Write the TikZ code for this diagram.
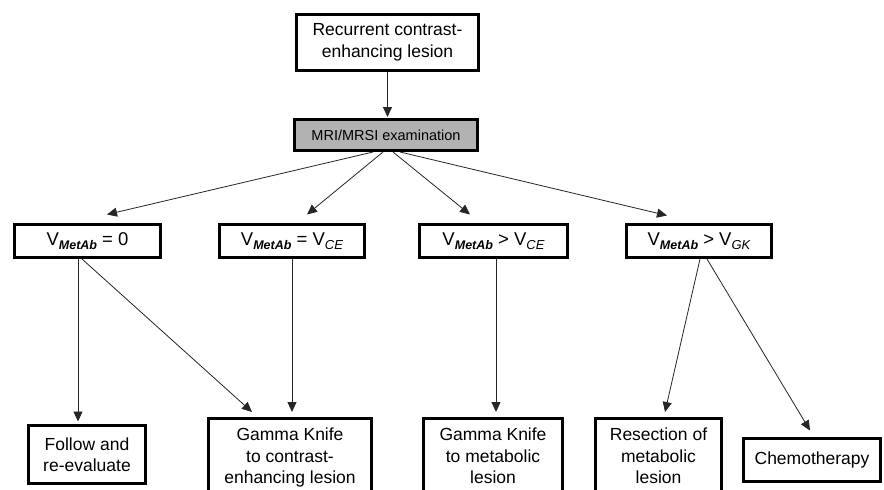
\documentclass[tikz,border=0pt]{standalone}
\usepackage{fontspec}
\setmainfont{Liberation Sans}
\usetikzlibrary{arrows.meta,calc}
\definecolor{boxgray}{RGB}{178,178,178}
\newcommand\Msub[1]{\raisebox{-3.5pt}{\fontsize{12.5}{12}\selectfont\bfseries\itshape #1}}
\newcommand\Csub[1]{\raisebox{-3.5pt}{\fontsize{13}{12}\selectfont\itshape #1}}
\begin{document}
\begin{tikzpicture}[x=1pt,y=-1pt,
  box/.style={draw=black, line width=3pt, align=center, inner sep=0pt,
    font=\fontsize{17.5}{21.5}\selectfont},
  vbox/.style={draw=black, line width=3pt, inner sep=0pt, minimum height=33,
    font=\fontsize{18.5}{21.5}\selectfont},
  cutbox/.style={box, anchor=north, inner ysep=10pt, inner xsep=0pt},
  arr/.style={draw=black!85, line width=0.8pt, -{Triangle[length=10pt,width=9pt]}}]
\useasboundingbox (0,0) rectangle (884,490);
\clip (0,0) rectangle (884,490);
\fill[white] (0,0) rectangle (884,490);

\node[box, minimum width=182, minimum height=56] (top) at (387.5,42.5) {Recurrent contrast-\\enhancing lesion};
\node[box, fill=boxgray, minimum width=183, minimum height=31, font=\fontsize{14.5}{17}\selectfont] (mri) at (386,135) {MRI/MRSI examination};

\node[vbox, minimum width=146] (b1) at (87.5,241) {V\Msub{MetAb}\ =\ 0};
\node[vbox, minimum width=145] (b2) at (292,241) {V\Msub{MetAb}\ =\ V\Csub{CE}};
\node[vbox, minimum width=148] (b3) at (493.5,241) {V\Msub{MetAb}\ >\ V\Csub{CE}};
\node[vbox, minimum width=145] (b4) at (699,241) {V\Msub{MetAb}\ >\ V\Csub{GK}};

\node[box, minimum width=117, minimum height=58] (follow) at (87,454.5) {Follow and\\re-evaluate};
\node[cutbox, minimum width=163] (gk1) at (290,416.5) {Gamma Knife\\to contrast-\\enhancing lesion};
\node[cutbox, minimum width=139] (gk2) at (493,416.5) {Gamma Knife\\to metabolic\\lesion};
\node[cutbox, minimum width=126] (res) at (658.5,416.5) {Resection of\\metabolic\\lesion};
\node[box, minimum width=137, minimum height=43] (chemo) at (812,460) {Chemotherapy};

\draw[arr, shorten >=1pt] (top.south) -- (top.south |- mri.north);

\draw[arr] ([xshift=-13pt]mri.south) -- ([xshift=19.5pt,yshift=8.5pt]b1.north);
\draw[arr] ([xshift=-3pt]mri.south) -- ([xshift=15pt,yshift=8.5pt]b2.north);
\draw[arr] ([xshift=7pt]mri.south) -- ([xshift=-23.5pt,yshift=8.5pt]b3.north);
\draw[arr] ([xshift=14pt]mri.south) -- ([xshift=-32pt,yshift=7.5pt]b4.north);

\draw[arr, shorten >=2.5pt] ([xshift=-9.5pt]b1.south) coordinate (s1) -- (s1 |- follow.north);
\draw[arr] ([xshift=-5.5pt]b1.south) -- ([xshift=-38pt,yshift=4.5pt]gk1.north);
\draw[arr, shorten >=4.5pt] (b2.south) -- (b2.south |- gk1.north);
\draw[arr, shorten >=4.5pt] ([xshift=2.5pt]b3.south) coordinate (s3) -- (s3 |- gk2.north);
\draw[arr] ([xshift=1pt]b4.south) -- ([xshift=6.5pt,yshift=4.5pt]res.north);
\draw[arr] ([xshift=8pt]b4.south) -- ([xshift=-2pt,yshift=6.5pt]chemo.north);
\end{tikzpicture}
\end{document}
